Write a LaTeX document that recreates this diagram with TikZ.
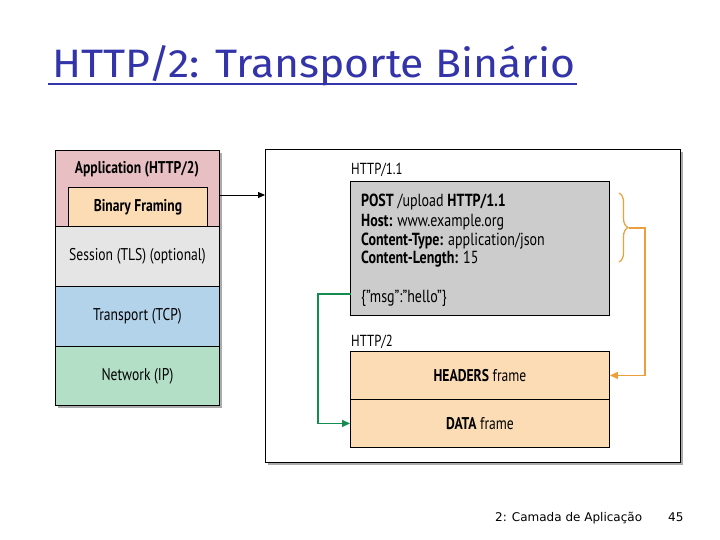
\documentclass[tikz,border=0pt]{standalone}
\usepackage{fontspec}
\setmainfont{PT Sans}
\newfontfamily\titlefont{Fira Sans}
\newfontfamily\footfont{DejaVu Sans}
\usetikzlibrary{shadows,decorations.pathreplacing,arrows.meta}
\definecolor{titleblue}{RGB}{51,51,170}
\definecolor{appink}{RGB}{232,192,196}
\definecolor{peach}{RGB}{251,220,181}
\definecolor{sessgray}{RGB}{229,229,229}
\definecolor{tcpblue}{RGB}{179,211,234}
\definecolor{ipgreen}{RGB}{179,223,199}
\definecolor{boxgray}{RGB}{204,204,204}
\definecolor{braceorange}{RGB}{236,160,60}
\definecolor{arrgreen}{RGB}{20,140,80}
\newcommand{\cnd}[1]{\scalebox{0.8}[1]{#1}}
\tikzset{
  layer/.style={draw=black, line width=0.9pt, minimum width=164pt, inner sep=0pt, font=\fontsize{17}{19}\selectfont},
  frame/.style={draw=black, line width=0.9pt, fill=peach, minimum width=259pt, minimum height=48pt, inner sep=0pt, font=\fontsize{17}{19}\selectfont},
  lbl/.style={anchor=base west, inner sep=0pt, font=\fontsize{16}{18}\selectfont},
  hdr/.style={anchor=base west, inner sep=0pt, font=\fontsize{17.5}{19}\selectfont},
}
\begin{document}
\begin{tikzpicture}[x=1pt,y=-1pt]
\useasboundingbox (0,0) rectangle (720,540);
% title
\node[anchor=base west, inner sep=0pt, text=titleblue] (title) at (52,78)
  {\resizebox{523pt}{32pt}{\titlefont HTTP/2: Transporte Binário}};
\draw[titleblue, line width=2pt] (48,84) -- (577,84);
% left stack shadow
\fill[black!55, opacity=0.6] (58,153) rectangle (222,408);
\node[layer, fill=appink, minimum height=76pt, anchor=north west] (app) at (55,150) {};
\node[inner sep=0pt, font=\fontsize{17}{19}\selectfont\bfseries] (apptxt) at (137,169) {\cnd{Application (HTTP/2)}};
\node[layer, fill=peach, minimum width=139pt, minimum height=39pt, anchor=north west] (bf) at (68,187) {\cnd{\bfseries Binary Framing}};
\node[layer, fill=sessgray, minimum height=60pt, anchor=north west] (sess) at (55,226) {\cnd{Session (TLS) (optional)}};
\node[layer, fill=tcpblue, minimum height=60pt, anchor=north west] (tcp) at (55,286) {\cnd{Transport (TCP)}};
\node[layer, fill=ipgreen, minimum height=59pt, anchor=north west] (ip) at (55,346) {\cnd{Network (IP)}};
% right big box
\fill[black!55, opacity=0.6] (268,152) rectangle (683,465);
\node[draw=black, line width=0.9pt, fill=white, minimum width=415pt, minimum height=313pt, anchor=north west, inner sep=0pt] (big) at (265,149) {};
\coordinate (bigin) at (265,195);
\draw[-{Triangle[length=7pt,width=6pt]}, line width=0.9pt] (app.east |- bigin) -- (bigin);
% HTTP/1.1
\node[lbl] (h11) at (351,175) {\cnd{HTTP/1.1}};
\node[draw=black, line width=0.9pt, fill=boxgray, minimum width=259pt, minimum height=134pt, anchor=north west, inner sep=0pt] (req) at (350,181) {};
\node[hdr] (l1) at (361,207) {\cnd{\textbf{POST} /upload \textbf{HTTP/1.1}}};
\node[hdr] (l2) at (361,226) {\cnd{\textbf{Host:} www.example.org}};
\node[hdr] (l3) at (361,245) {\cnd{\textbf{Content-Type:} application/json}};
\node[hdr] (l4) at (361,263) {\cnd{\textbf{Content-Length:} 15}};
\node[hdr] (l5) at (361,302) {\cnd{\{"msg":"hello"\}}};
% HTTP/2
\node[lbl] (h2) at (351,346) {\cnd{HTTP/2}};
\node[frame, anchor=north west] (hf) at (350,351) {\cnd{\textbf{HEADERS} frame}};
\node[frame, anchor=north west] (df) at (350,399) {\cnd{\textbf{DATA} frame}};
% orange brace and arrow
\draw[braceorange, line width=1.2pt, decorate, decoration={brace, amplitude=9pt}] (619,193) -- (619,262);
\coordinate (bt) at (629,228);
\coordinate (oc) at (645,228);
\draw[braceorange, line width=1.2pt, -{Triangle[length=8pt,width=7pt]}] (bt) -- (oc) |- (hf.east);
% green arrow
\coordinate (gs) at (351,294);
\coordinate (gc) at (318,294);
\draw[arrgreen, line width=1.2pt, -{Triangle[length=8pt,width=7pt]}] (gs) -- (gc) |- (df.west);
% footer
\node[anchor=base west, inner sep=0pt, font=\footfont\fontsize{12}{14}\selectfont] (foot) at (495,521) {2: Camada de Aplicação};
\node[anchor=base west, inner sep=0pt, font=\footfont\fontsize{12}{14}\selectfont] (pg) at (668,521) {45};
\end{tikzpicture}
\end{document}
